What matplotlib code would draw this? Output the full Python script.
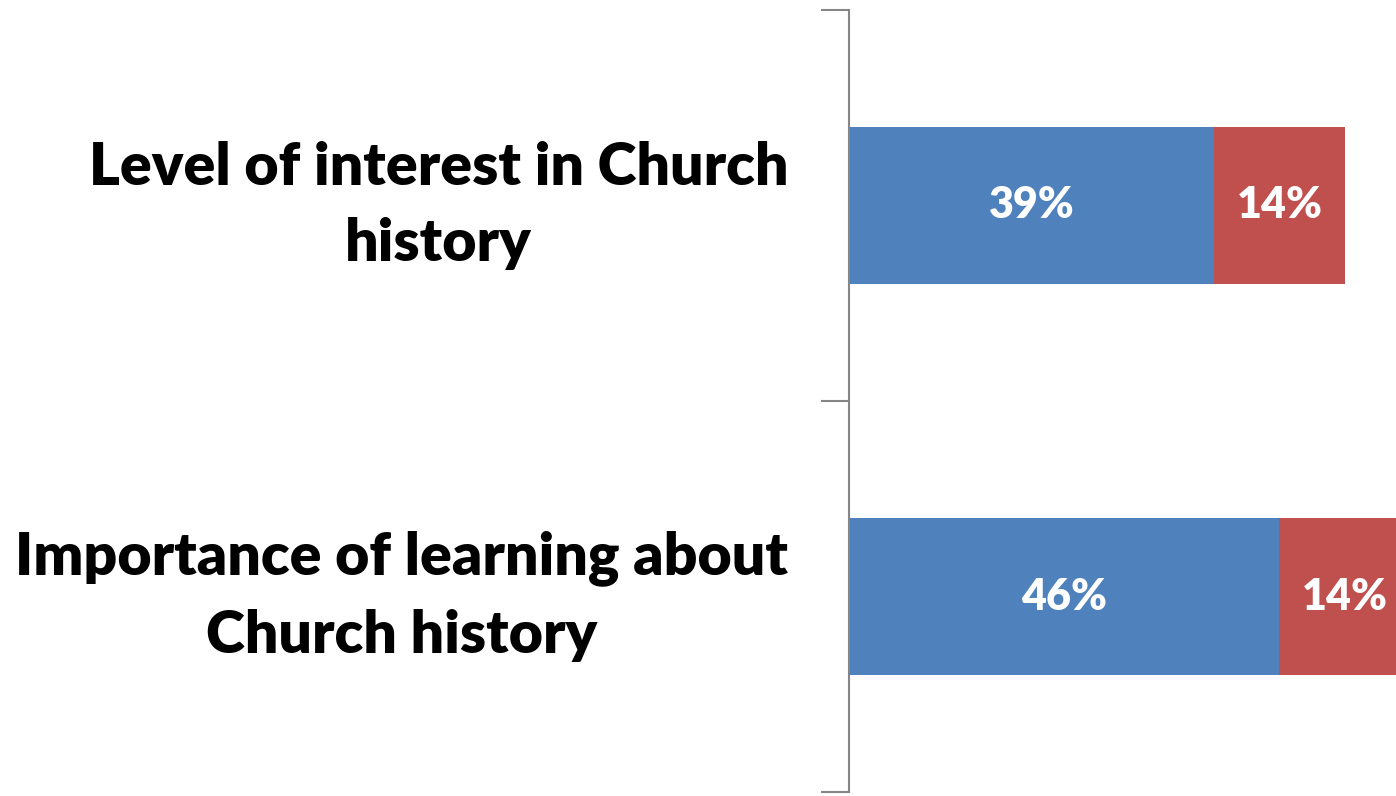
import matplotlib
matplotlib.use("Agg")
import matplotlib.pyplot as plt
import numpy as np

categories = ['Level of interest in Church\nhistory', 'Importance of learning about\nChurch history']
blue_vals = [39, 46]
red_vals = [14, 14]

blue = '#4F81BD'
red = '#C0504D'

fig = plt.figure(figsize=(13.96, 7.96), dpi=100)
ax = fig.add_axes([849/1396, 4/796, 547/1396, 782/796])

y = np.arange(len(categories))
h = 0.4
ax.barh(y, blue_vals, height=h, color=blue, edgecolor='none')
ax.barh(y, red_vals, left=blue_vals, height=h, color=red, edgecolor='none')

for i in range(len(categories)):
    ax.text(blue_vals[i] / 2, y[i], '%d%%' % blue_vals[i], ha='center', va='center',
            color='white', fontsize=31, fontweight='heavy', family='Lato')
    ax.text(blue_vals[i] + red_vals[i] / 2, y[i], '%d%%' % red_vals[i], ha='center', va='center',
            color='white', fontsize=31, fontweight='heavy', family='Lato')

ax.set_xlim(0, 58.45)
ax.set_ylim(1.5, -0.5)
ax.set_yticks([-0.5, 0.5, 1.5])
ax.set_yticklabels([])
ax.set_xticks([])
ax.tick_params(axis='y', length=20, width=1.5, color='#868686')
for s in ['top', 'right', 'bottom']:
    ax.spines[s].set_visible(False)
ax.spines['left'].set_color('#868686')
ax.spines['left'].set_linewidth(1.5)

for i, c in enumerate(categories):
    ax.text(-61/9.36, y[i], c, ha='right', va='center', multialignment='center',
            fontsize=42.5, fontweight='heavy', family='Lato', linespacing=1.52)

fig.savefig('out.png', dpi=100)
